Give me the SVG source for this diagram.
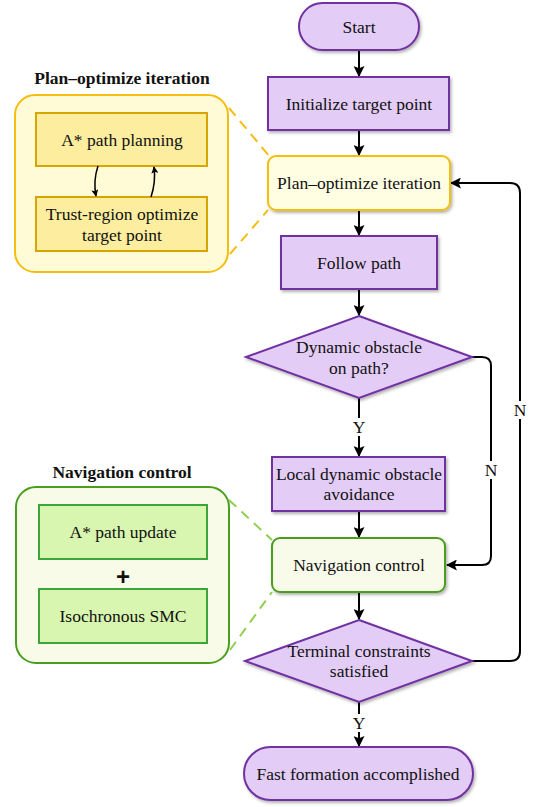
<svg xmlns="http://www.w3.org/2000/svg" width="536" height="807" viewBox="0 0 536 807">
<defs>
<filter id="sh" x="-10%" y="-10%" width="130%" height="140%">
<feDropShadow dx="1.5" dy="2" stdDeviation="1.5" flood-color="#000" flood-opacity="0.3"/>
</filter>
<marker id="ah" viewBox="0 0 10 10" refX="9" refY="5" markerWidth="11" markerHeight="11" markerUnits="userSpaceOnUse" orient="auto">
<path d="M0,0 L10,5 L0,10 L2,5 Z" fill="#000"/>
</marker>
<marker id="ahs" viewBox="0 0 10 10" refX="9" refY="5" markerWidth="7" markerHeight="7" markerUnits="userSpaceOnUse" orient="auto">
<path d="M0,0 L10,5 L0,10 L2,5 Z" fill="#000"/>
</marker>
</defs>
<style>
text{font-size:17.5px;fill:#111;text-anchor:middle;dominant-baseline:central}
.b{font-weight:bold}
.plus{font-size:24px;font-weight:bold}
.p{fill:#e3cdf6;stroke:#7030a0;stroke-width:2;filter:url(#sh)}
.y{fill:#fffde2;stroke:#f5bd10;stroke-width:2;filter:url(#sh)}
.g{fill:#f8fbea;stroke:#4a9e1f;stroke-width:2;filter:url(#sh)}
.yp{fill:#fffbd6;stroke:#f5bd10;stroke-width:2}
.yi{fill:#fcee9e;stroke:#d8a400;stroke-width:2}
.gp{fill:#f7fbe8;stroke:#4a9e1f;stroke-width:2}
.gi{fill:#d8f6b0;stroke:#3aa53a;stroke-width:2}
.c{fill:none;stroke:#000;stroke-width:2}
.cs{fill:none;stroke:#000;stroke-width:1.5}
.dy{fill:none;stroke:#f5bd10;stroke-width:2;stroke-dasharray:10,7}
.dg{fill:none;stroke:#8fd050;stroke-width:2;stroke-dasharray:10,7}
.lb{fill:#fff}
</style>

<g id="panel-plan">
<text font-family="Liberation Serif" class="b" x="122" y="78">Plan–optimize iteration</text>
<rect class="yp" x="15" y="95" width="213" height="177" rx="20"/>
<rect class="yi" x="36" y="113" width="171" height="53"/>
<text font-family="Liberation Serif" x="122" y="140">A* path planning</text>
<rect class="yi" x="36" y="197" width="171" height="54"/>
<text font-family="Liberation Serif" x="122" y="214">Trust-region optimize</text>
<text font-family="Liberation Serif" x="122" y="235">target point</text>
<path class="cs" d="M98,166 Q93,181 96,196" marker-end="url(#ahs)"/>
<path class="cs" d="M151,197 Q156,182 154,167" marker-end="url(#ahs)"/>
</g>

<g id="panel-nav">
<text font-family="Liberation Serif" class="b" x="122" y="472">Navigation control</text>
<rect class="gp" x="16" y="487" width="213" height="176" rx="20"/>
<rect class="gi" x="39" y="505" width="168" height="54"/>
<text font-family="Liberation Serif" x="123" y="532">A* path update</text>
<text font-family="Liberation Sans" class="plus" x="123" y="576">+</text>
<rect class="gi" x="39" y="589" width="168" height="54"/>
<text font-family="Liberation Serif" x="123" y="616">Isochronous SMC</text>
</g>

<g id="zoom-lines">
<path class="dy" d="M229,108 L270,157"/>
<path class="dy" d="M230,254 L268,210"/>
<path class="dg" d="M229,500 L272,540"/>
<path class="dg" d="M230,650 L272,592"/>
</g>

<g id="connectors">
<path class="c" d="M359,50 L359,76" marker-end="url(#ah)"/>
<path class="c" d="M359,130 L359,155" marker-end="url(#ah)"/>
<path class="c" d="M359,210 L359,235" marker-end="url(#ah)"/>
<path class="c" d="M359,289 L359,315" marker-end="url(#ah)"/>
<path class="c" d="M359,398 L359,456" marker-end="url(#ah)"/>
<path class="c" d="M359,511 L359,537" marker-end="url(#ah)"/>
<path class="c" d="M359,592 L359,619" marker-end="url(#ah)"/>
<path class="c" d="M359,702 L359,746" marker-end="url(#ah)"/>
<path class="c" d="M472,357 L482,357 Q491,357 491,366 L491,556 Q491,565 482,565 L447,565" marker-end="url(#ah)"/>
<path class="c" d="M472,661 L510,661 Q520,661 520,651 L520,193 Q520,183 510,183 L451,183" marker-end="url(#ah)"/>
<rect class="lb" x="351" y="418" width="16" height="18"/>
<text font-family="Liberation Serif" x="359" y="427">Y</text>
<rect class="lb" x="351" y="714" width="16" height="18"/>
<text font-family="Liberation Serif" x="359" y="723">Y</text>
<rect class="lb" x="483" y="461" width="16" height="18"/>
<text font-family="Liberation Serif" x="491" y="470">N</text>
<rect class="lb" x="512" y="401" width="16" height="18"/>
<text font-family="Liberation Serif" x="520" y="410">N</text>
</g>

<g id="start">
<rect class="p" x="299" y="3" width="120" height="47" rx="23.5"/>
<text font-family="Liberation Serif" x="359" y="27">Start</text>
</g>
<g id="init">
<rect class="p" x="268" y="77" width="181" height="53"/>
<text font-family="Liberation Serif" x="359" y="104">Initialize target point</text>
</g>
<g id="planopt">
<rect class="y" x="268" y="156" width="182" height="54" rx="8"/>
<text font-family="Liberation Serif" x="359" y="183">Plan–optimize iteration</text>
</g>
<g id="follow">
<rect class="p" x="281" y="236" width="156" height="53"/>
<text font-family="Liberation Serif" x="359" y="263">Follow path</text>
</g>
<g id="dyn">
<polygon class="p" points="359,316 472,357 359,398 246,357"/>
<text font-family="Liberation Serif" x="359" y="347">Dynamic obstacle</text>
<text font-family="Liberation Serif" x="359" y="368">on path?</text>
</g>
<g id="local">
<rect class="p" x="272" y="457" width="173" height="54"/>
<text font-family="Liberation Serif" x="359" y="474">Local dynamic obstacle</text>
<text font-family="Liberation Serif" x="359" y="494">avoidance</text>
</g>
<g id="nav">
<rect class="g" x="272" y="538" width="173" height="54" rx="8"/>
<text font-family="Liberation Serif" x="359" y="565">Navigation control</text>
</g>
<g id="term">
<polygon class="p" points="359,620 472,661 359,702 245,661"/>
<text font-family="Liberation Serif" x="359" y="651">Terminal constraints</text>
<text font-family="Liberation Serif" x="359" y="671">satisfied</text>
</g>
<g id="end">
<rect class="p" x="244" y="747" width="229" height="53" rx="26.5"/>
<text font-family="Liberation Serif" x="358" y="774">Fast formation accomplished</text>
</g>
</svg>
